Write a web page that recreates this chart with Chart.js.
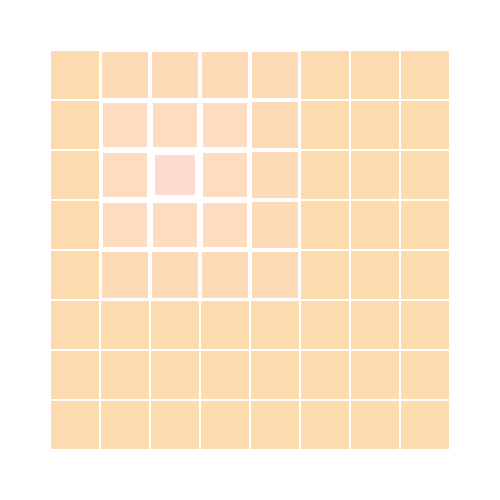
<!DOCTYPE html>
<html>
<head>
<meta charset="utf-8">
<script src="https://cdn.jsdelivr.net/npm/chart.js@4/dist/chart.umd.min.js"></script>
<style>
  html, body { margin: 0; padding: 0; background: #ffffff; }
  #wrap { width: 500px; height: 500px; }
</style>
</head>
<body>
<div id="wrap"><canvas id="c" width="500" height="500"></canvas></div>
<script>
// Column and row indices of the 8x8 grid
const columns = [0, 1, 2, 3, 4, 5, 6, 7];
const rows = [0, 1, 2, 3, 4, 5, 6, 7];

// Cell weights (row by row, top to bottom)
const row0 = [0, 1, 1, 1, 1, 0, 0, 0];
const row1 = [0, 2, 2, 2, 1, 0, 0, 0];
const row2 = [0, 2, 4, 2, 1, 0, 0, 0];
const row3 = [0, 2, 2, 2, 1, 0, 0, 0];
const row4 = [0, 1, 1, 1, 1, 0, 0, 0];
const row5 = [0, 0, 0, 0, 0, 0, 0, 0];
const row6 = [0, 0, 0, 0, 0, 0, 0, 0];
const row7 = [0, 0, 0, 0, 0, 0, 0, 0];
const weights = [row0, row1, row2, row3, row4, row5, row6, row7];

const points = [];
rows.forEach(r => columns.forEach(c => points.push({ x: c, y: r, v: weights[r][c] })));

function cellColor(v) {
  const t = v / 4;
  const g = Math.round(219 + 1 * t);
  const b = Math.round(175 + 31 * t);
  return `rgb(253,${g},${b})`;
}

function cellRadius(ctx) {
  const chart = ctx.chart;
  const xs = chart.scales.x;
  if (!xs || !ctx.raw) return 0;
  const cell = Math.abs(xs.getPixelForValue(1) - xs.getPixelForValue(0));
  const side = cell - 2 - 2 * ctx.raw.v;
  return side / Math.SQRT2;
}

new Chart(document.getElementById('c'), {
  type: 'scatter',
  data: {
    datasets: [{
      data: points,
      pointStyle: 'rect',
      pointRadius: cellRadius,
      pointHoverRadius: cellRadius,
      pointBorderWidth: 0,
      pointHoverBorderWidth: 0,
      borderWidth: 0,
      backgroundColor: ctx => ctx.raw ? cellColor(ctx.raw.v) : 'transparent',
      hoverBackgroundColor: ctx => ctx.raw ? cellColor(ctx.raw.v) : 'transparent'
    }]
  },
  options: {
    responsive: false,
    animation: false,
    events: [],
    layout: { padding: 50 },
    plugins: { legend: { display: false }, tooltip: { enabled: false } },
    scales: {
      x: { type: 'linear', min: -0.5, max: 7.5, display: false },
      y: { type: 'linear', min: -0.5, max: 7.5, reverse: true, display: false }
    }
  }
});
</script>
</body>
</html>
